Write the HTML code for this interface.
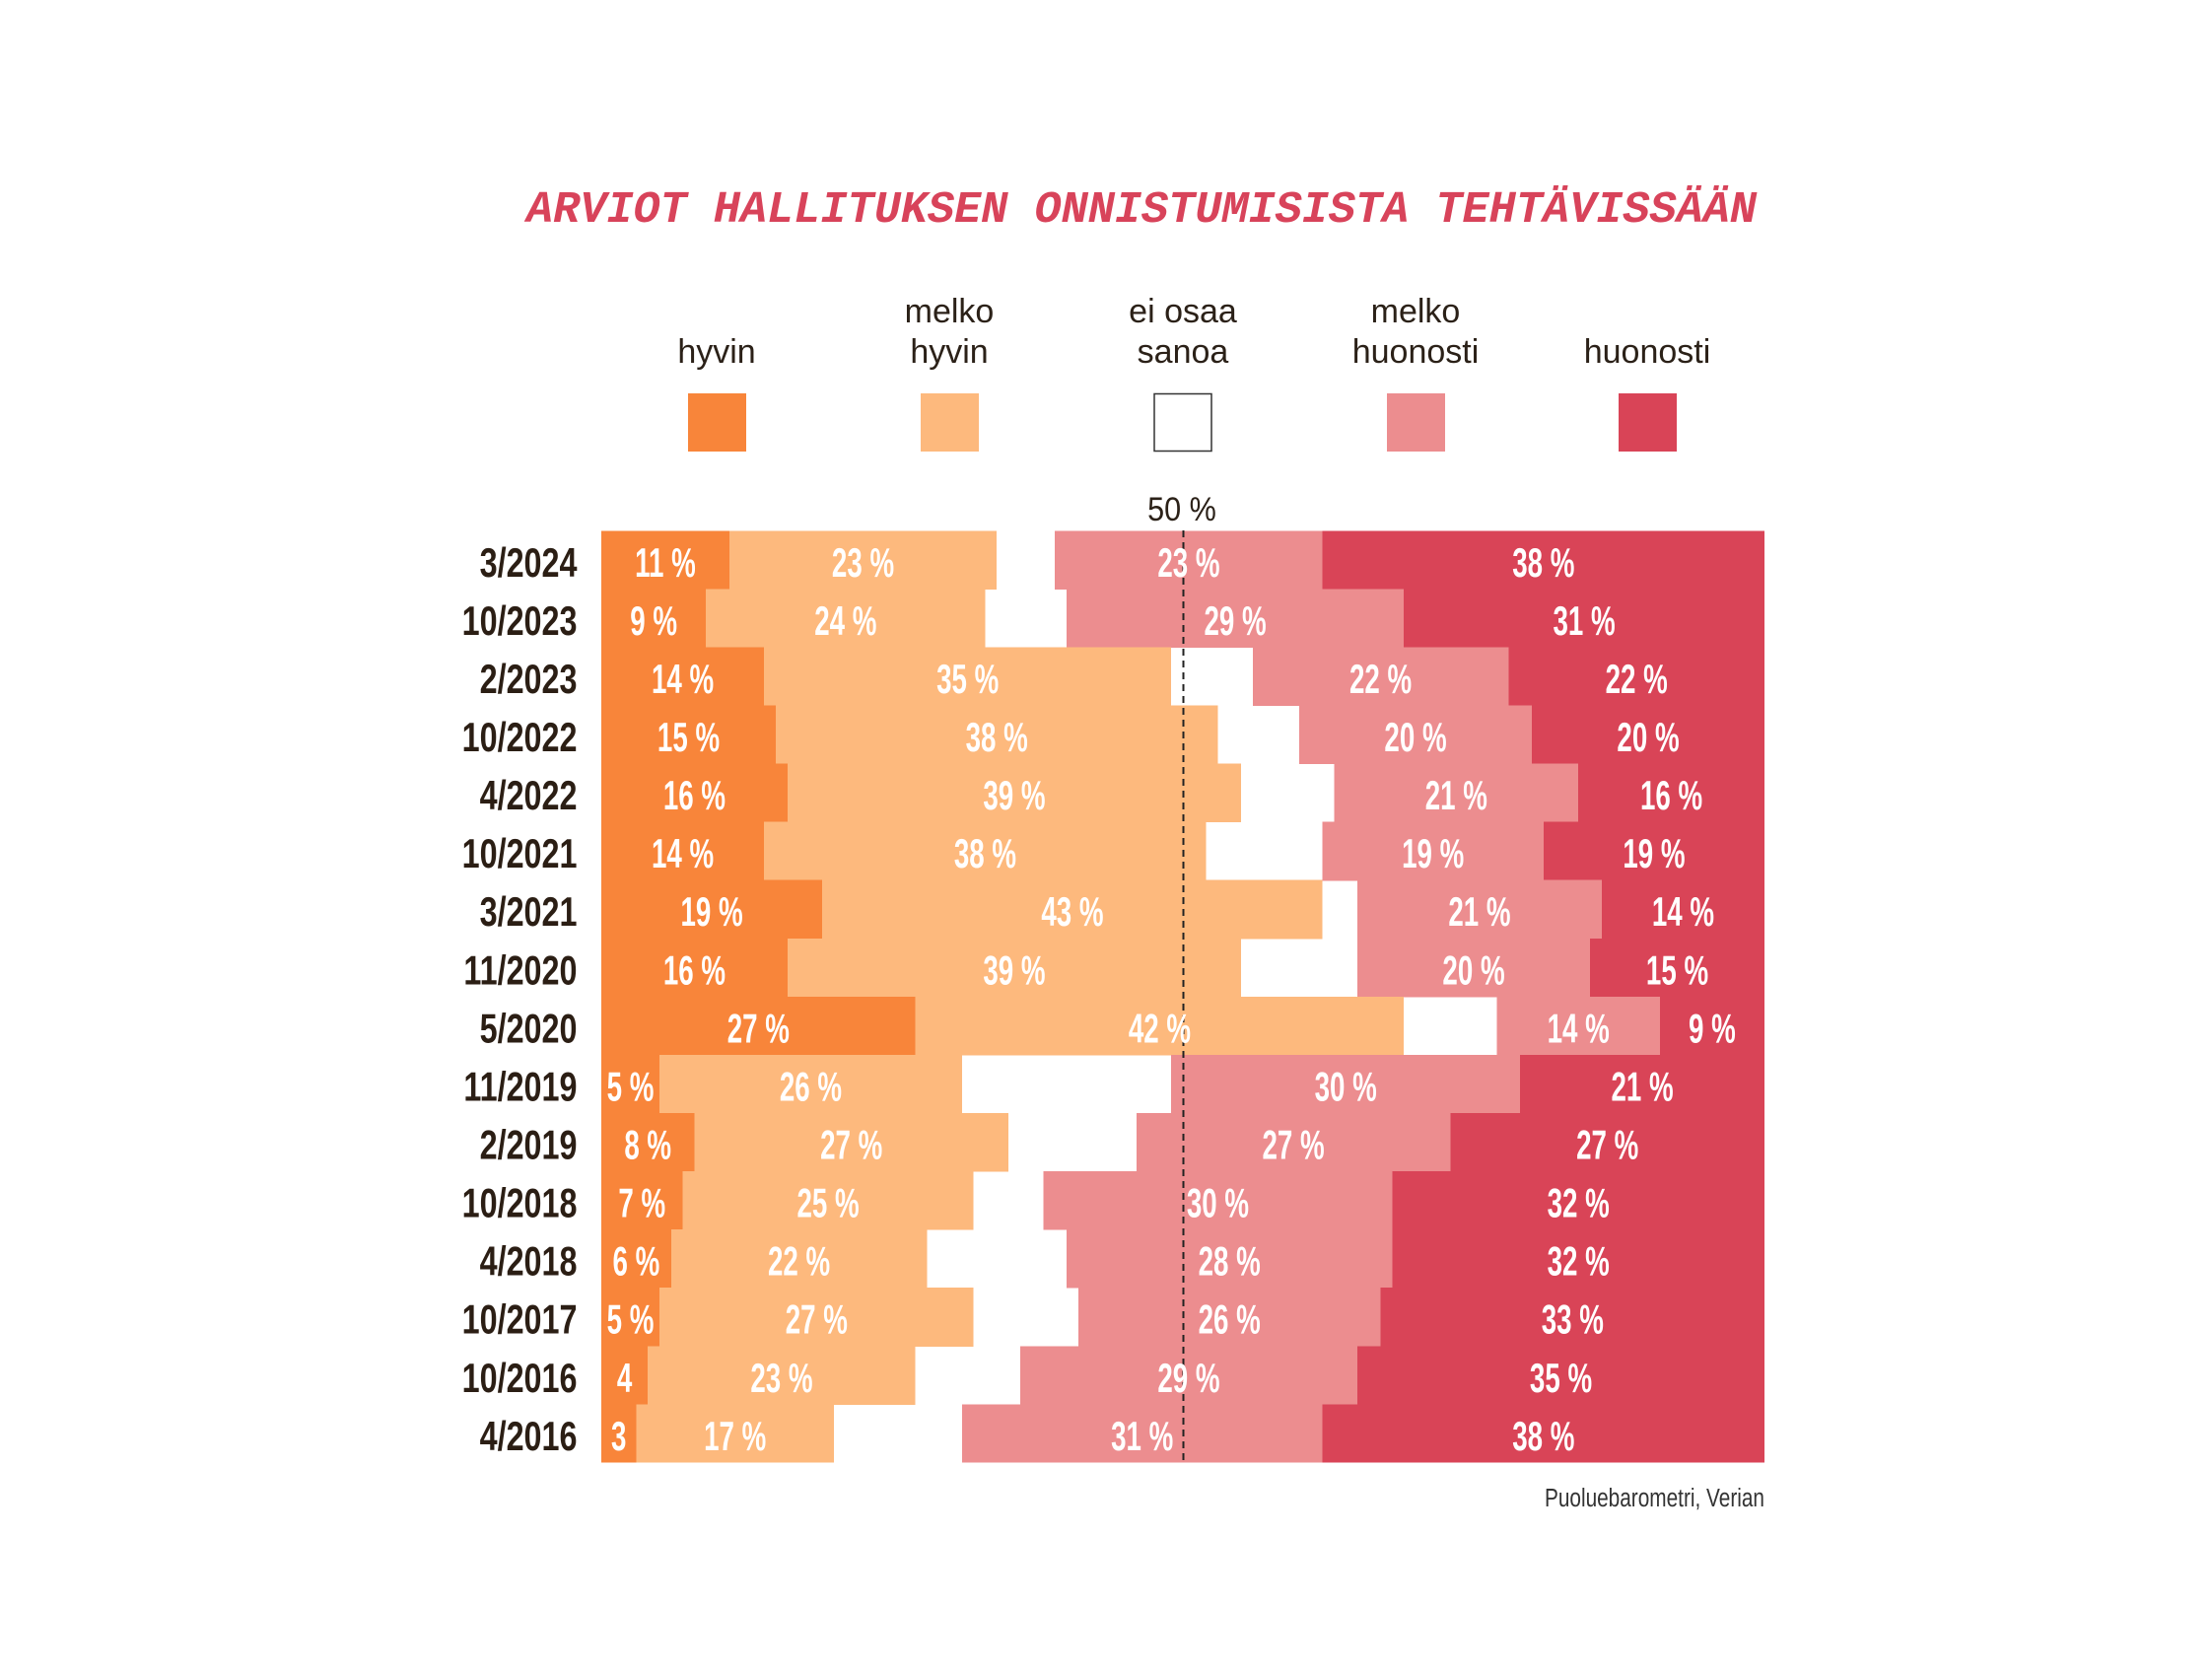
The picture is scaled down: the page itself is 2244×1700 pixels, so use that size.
<!DOCTYPE html>
<html><head><meta charset="utf-8"><style>
html,body{margin:0;padding:0;background:#fff;}
svg{display:block;}
</style></head><body>
<svg width="2244" height="1700" viewBox="0 0 2244 1700" xmlns="http://www.w3.org/2000/svg">
<rect width="2244" height="1700" fill="#fff"/>
<text x="534" y="225" font-family="Liberation Mono, monospace" font-weight="bold" font-style="italic" font-size="45.2" fill="#d8435a" textLength="1248" lengthAdjust="spacingAndGlyphs">ARVIOT HALLITUKSEN ONNISTUMISISTA TEHTÄVISSÄÄN</text>

<g font-family="Liberation Sans, sans-serif" font-size="34" fill="#2b2118" text-anchor="middle">
<text x="727" y="368">hyvin</text>
<text x="963" y="327">melko</text><text x="963" y="368">hyvin</text>
<text x="1200" y="327">ei osaa</text><text x="1200" y="368">sanoa</text>
<text x="1436" y="327">melko</text><text x="1436" y="368">huonosti</text>
<text x="1671" y="368">huonosti</text>
<text transform="translate(1199,528) scale(0.9,1)">50 %</text>
</g>
<rect x="698" y="399" width="59" height="59" fill="#f8853a"/>
<rect x="934" y="399" width="59" height="59" fill="#fdb97d"/>
<rect x="1171" y="399.5" width="58" height="58" fill="#fff" stroke="#333" stroke-width="1.5"/>
<rect x="1407" y="399" width="59" height="59" fill="#ec8d8f"/>
<rect x="1642" y="399" width="59" height="59" fill="#d94457"/>

<g shape-rendering="crispEdges">
<!-- row 0 -->
<rect x="610" y="538.3" width="129.8" height="59.6" fill="#f8853a"/><rect x="739.8" y="538.3" width="271.4" height="59.6" fill="#fdb97d"/><rect x="1070.2" y="538.3" width="271.4" height="59.6" fill="#ec8d8f"/><rect x="1341.6" y="538.3" width="448.4" height="59.6" fill="#d94457"/>
<!-- row 1 -->
<rect x="610" y="597.4" width="106.2" height="59.6" fill="#f8853a"/><rect x="716.2" y="597.4" width="283.2" height="59.6" fill="#fdb97d"/><rect x="1082" y="597.4" width="342.2" height="59.6" fill="#ec8d8f"/><rect x="1424.2" y="597.4" width="365.8" height="59.6" fill="#d94457"/>
<!-- row 2 -->
<rect x="610" y="656.4" width="165.2" height="59.6" fill="#f8853a"/><rect x="775.2" y="656.4" width="413" height="59.6" fill="#fdb97d"/><rect x="1270.8" y="656.4" width="259.6" height="59.6" fill="#ec8d8f"/><rect x="1530.4" y="656.4" width="259.6" height="59.6" fill="#d94457"/>
<!-- row 3 -->
<rect x="610" y="715.5" width="177" height="59.6" fill="#f8853a"/><rect x="787" y="715.5" width="448.4" height="59.6" fill="#fdb97d"/><rect x="1318" y="715.5" width="236" height="59.6" fill="#ec8d8f"/><rect x="1554" y="715.5" width="236" height="59.6" fill="#d94457"/>
<!-- row 4 -->
<rect x="610" y="774.6" width="188.8" height="59.6" fill="#f8853a"/><rect x="798.8" y="774.6" width="460.2" height="59.6" fill="#fdb97d"/><rect x="1353.4" y="774.6" width="247.8" height="59.6" fill="#ec8d8f"/><rect x="1601.2" y="774.6" width="188.8" height="59.6" fill="#d94457"/>
<!-- row 5 -->
<rect x="610" y="833.7" width="165.2" height="59.6" fill="#f8853a"/><rect x="775.2" y="833.7" width="448.4" height="59.6" fill="#fdb97d"/><rect x="1341.6" y="833.7" width="224.2" height="59.6" fill="#ec8d8f"/><rect x="1565.8" y="833.7" width="224.2" height="59.6" fill="#d94457"/>
<!-- row 6 -->
<rect x="610" y="892.7" width="224.2" height="59.6" fill="#f8853a"/><rect x="834.2" y="892.7" width="507.4" height="59.6" fill="#fdb97d"/><rect x="1377" y="892.7" width="247.8" height="59.6" fill="#ec8d8f"/><rect x="1624.8" y="892.7" width="165.2" height="59.6" fill="#d94457"/>
<!-- row 7 -->
<rect x="610" y="951.8" width="188.8" height="59.6" fill="#f8853a"/><rect x="798.8" y="951.8" width="460.2" height="59.6" fill="#fdb97d"/><rect x="1377" y="951.8" width="236" height="59.6" fill="#ec8d8f"/><rect x="1613" y="951.8" width="177" height="59.6" fill="#d94457"/>
<!-- row 8 -->
<rect x="610" y="1010.9" width="318.6" height="59.6" fill="#f8853a"/><rect x="928.6" y="1010.9" width="495.6" height="59.6" fill="#fdb97d"/><rect x="1518.6" y="1010.9" width="165.2" height="59.6" fill="#ec8d8f"/><rect x="1683.8" y="1010.9" width="106.2" height="59.6" fill="#d94457"/>
<!-- row 9 -->
<rect x="610" y="1069.9" width="59" height="59.6" fill="#f8853a"/><rect x="669" y="1069.9" width="306.8" height="59.6" fill="#fdb97d"/><rect x="1188.2" y="1069.9" width="354" height="59.6" fill="#ec8d8f"/><rect x="1542.2" y="1069.9" width="247.8" height="59.6" fill="#d94457"/>
<!-- row 10 -->
<rect x="610" y="1129" width="94.4" height="59.6" fill="#f8853a"/><rect x="704.4" y="1129" width="318.6" height="59.6" fill="#fdb97d"/><rect x="1152.8" y="1129" width="318.6" height="59.6" fill="#ec8d8f"/><rect x="1471.4" y="1129" width="318.6" height="59.6" fill="#d94457"/>
<!-- row 11 -->
<rect x="610" y="1188.1" width="82.6" height="59.6" fill="#f8853a"/><rect x="692.6" y="1188.1" width="295" height="59.6" fill="#fdb97d"/><rect x="1058.4" y="1188.1" width="354" height="59.6" fill="#ec8d8f"/><rect x="1412.4" y="1188.1" width="377.6" height="59.6" fill="#d94457"/>
<!-- row 12 -->
<rect x="610" y="1247.1" width="70.8" height="59.6" fill="#f8853a"/><rect x="680.8" y="1247.1" width="259.6" height="59.6" fill="#fdb97d"/><rect x="1082" y="1247.1" width="330.4" height="59.6" fill="#ec8d8f"/><rect x="1412.4" y="1247.1" width="377.6" height="59.6" fill="#d94457"/>
<!-- row 13 -->
<rect x="610" y="1306.2" width="59" height="59.6" fill="#f8853a"/><rect x="669" y="1306.2" width="318.6" height="59.6" fill="#fdb97d"/><rect x="1093.8" y="1306.2" width="306.8" height="59.6" fill="#ec8d8f"/><rect x="1400.6" y="1306.2" width="389.4" height="59.6" fill="#d94457"/>
<!-- row 14 -->
<rect x="610" y="1365.3" width="47.2" height="59.6" fill="#f8853a"/><rect x="657.2" y="1365.3" width="271.4" height="59.6" fill="#fdb97d"/><rect x="1034.8" y="1365.3" width="342.2" height="59.6" fill="#ec8d8f"/><rect x="1377" y="1365.3" width="413" height="59.6" fill="#d94457"/>
<!-- row 15 -->
<rect x="610" y="1424.4" width="35.4" height="59.0" fill="#f8853a"/><rect x="645.4" y="1424.4" width="200.6" height="59.0" fill="#fdb97d"/><rect x="975.8" y="1424.4" width="365.8" height="59.0" fill="#ec8d8f"/><rect x="1341.6" y="1424.4" width="448.4" height="59.0" fill="#d94457"/>
</g>

<line x1="1200.5" y1="538" x2="1200.5" y2="1483" stroke="#222" stroke-width="2" stroke-dasharray="7 5"/>

<g font-family="Liberation Sans, sans-serif" font-weight="bold" font-size="42" fill="#2b1e14" text-anchor="end">
<text transform="translate(585.5,584.8) scale(0.77,1)">3/2024</text>
<text transform="translate(585.5,643.9) scale(0.77,1)">10/2023</text>
<text transform="translate(585.5,702.9) scale(0.77,1)">2/2023</text>
<text transform="translate(585.5,762) scale(0.77,1)">10/2022</text>
<text transform="translate(585.5,821.1) scale(0.77,1)">4/2022</text>
<text transform="translate(585.5,880.2) scale(0.77,1)">10/2021</text>
<text transform="translate(585.5,939.2) scale(0.77,1)">3/2021</text>
<text transform="translate(585.5,998.3) scale(0.77,1)">11/2020</text>
<text transform="translate(585.5,1057.4) scale(0.77,1)">5/2020</text>
<text transform="translate(585.5,1116.4) scale(0.77,1)">11/2019</text>
<text transform="translate(585.5,1175.5) scale(0.77,1)">2/2019</text>
<text transform="translate(585.5,1234.6) scale(0.77,1)">10/2018</text>
<text transform="translate(585.5,1293.6) scale(0.77,1)">4/2018</text>
<text transform="translate(585.5,1352.7) scale(0.77,1)">10/2017</text>
<text transform="translate(585.5,1411.8) scale(0.77,1)">10/2016</text>
<text transform="translate(585.5,1470.9) scale(0.77,1)">4/2016</text>
</g>

<g font-family="Liberation Sans, sans-serif" font-weight="bold" font-size="42" fill="#fff" text-anchor="middle">
<text transform="translate(674.9,584.8) scale(0.66,1)">11 %</text><text transform="translate(875.5,584.8) scale(0.66,1)">23 %</text><text transform="translate(1205.9,584.8) scale(0.66,1)">23 %</text><text transform="translate(1565.8,584.8) scale(0.66,1)">38 %</text>
<text transform="translate(663.1,643.9) scale(0.66,1)">9 %</text><text transform="translate(857.8,643.9) scale(0.66,1)">24 %</text><text transform="translate(1253.1,643.9) scale(0.66,1)">29 %</text><text transform="translate(1607.1,643.9) scale(0.66,1)">31 %</text>
<text transform="translate(692.6,702.9) scale(0.66,1)">14 %</text><text transform="translate(981.7,702.9) scale(0.66,1)">35 %</text><text transform="translate(1400.6,702.9) scale(0.66,1)">22 %</text><text transform="translate(1660.2,702.9) scale(0.66,1)">22 %</text>
<text transform="translate(698.5,762) scale(0.66,1)">15 %</text><text transform="translate(1011.2,762) scale(0.66,1)">38 %</text><text transform="translate(1436,762) scale(0.66,1)">20 %</text><text transform="translate(1672,762) scale(0.66,1)">20 %</text>
<text transform="translate(704.4,821.1) scale(0.66,1)">16 %</text><text transform="translate(1028.9,821.1) scale(0.66,1)">39 %</text><text transform="translate(1477.3,821.1) scale(0.66,1)">21 %</text><text transform="translate(1695.6,821.1) scale(0.66,1)">16 %</text>
<text transform="translate(692.6,880.2) scale(0.66,1)">14 %</text><text transform="translate(999.4,880.2) scale(0.66,1)">38 %</text><text transform="translate(1453.7,880.2) scale(0.66,1)">19 %</text><text transform="translate(1677.9,880.2) scale(0.66,1)">19 %</text>
<text transform="translate(722.1,939.2) scale(0.66,1)">19 %</text><text transform="translate(1087.9,939.2) scale(0.66,1)">43 %</text><text transform="translate(1500.9,939.2) scale(0.66,1)">21 %</text><text transform="translate(1707.4,939.2) scale(0.66,1)">14 %</text>
<text transform="translate(704.4,998.3) scale(0.66,1)">16 %</text><text transform="translate(1028.9,998.3) scale(0.66,1)">39 %</text><text transform="translate(1495,998.3) scale(0.66,1)">20 %</text><text transform="translate(1701.5,998.3) scale(0.66,1)">15 %</text>
<text transform="translate(769.3,1057.4) scale(0.66,1)">27 %</text><text transform="translate(1176.4,1057.4) scale(0.66,1)">42 %</text><text transform="translate(1601.2,1057.4) scale(0.66,1)">14 %</text><text transform="translate(1736.9,1057.4) scale(0.66,1)">9 %</text>
<text transform="translate(639.5,1116.4) scale(0.66,1)">5 %</text><text transform="translate(822.4,1116.4) scale(0.66,1)">26 %</text><text transform="translate(1365.2,1116.4) scale(0.66,1)">30 %</text><text transform="translate(1666.1,1116.4) scale(0.66,1)">21 %</text>
<text transform="translate(657.2,1175.5) scale(0.66,1)">8 %</text><text transform="translate(863.7,1175.5) scale(0.66,1)">27 %</text><text transform="translate(1312.1,1175.5) scale(0.66,1)">27 %</text><text transform="translate(1630.7,1175.5) scale(0.66,1)">27 %</text>
<text transform="translate(651.3,1234.6) scale(0.66,1)">7 %</text><text transform="translate(840.1,1234.6) scale(0.66,1)">25 %</text><text transform="translate(1235.4,1234.6) scale(0.66,1)">30 %</text><text transform="translate(1601.2,1234.6) scale(0.66,1)">32 %</text>
<text transform="translate(645.4,1293.6) scale(0.66,1)">6 %</text><text transform="translate(810.6,1293.6) scale(0.66,1)">22 %</text><text transform="translate(1247.2,1293.6) scale(0.66,1)">28 %</text><text transform="translate(1601.2,1293.6) scale(0.66,1)">32 %</text>
<text transform="translate(639.5,1352.7) scale(0.66,1)">5 %</text><text transform="translate(828.3,1352.7) scale(0.66,1)">27 %</text><text transform="translate(1247.2,1352.7) scale(0.66,1)">26 %</text><text transform="translate(1595.3,1352.7) scale(0.66,1)">33 %</text>
<text transform="translate(633.6,1411.8) scale(0.66,1)">4</text><text transform="translate(792.9,1411.8) scale(0.66,1)">23 %</text><text transform="translate(1205.9,1411.8) scale(0.66,1)">29 %</text><text transform="translate(1583.5,1411.8) scale(0.66,1)">35 %</text>
<text transform="translate(627.7,1470.9) scale(0.66,1)">3</text><text transform="translate(745.7,1470.9) scale(0.66,1)">17 %</text><text transform="translate(1158.7,1470.9) scale(0.66,1)">31 %</text><text transform="translate(1565.8,1470.9) scale(0.66,1)">38 %</text>
</g>

<text transform="translate(1790,1528) scale(0.8,1)" font-family="Liberation Sans, sans-serif" font-size="26" fill="#333" text-anchor="end">Puoluebarometri, Verian</text>
</svg>
</body></html>
